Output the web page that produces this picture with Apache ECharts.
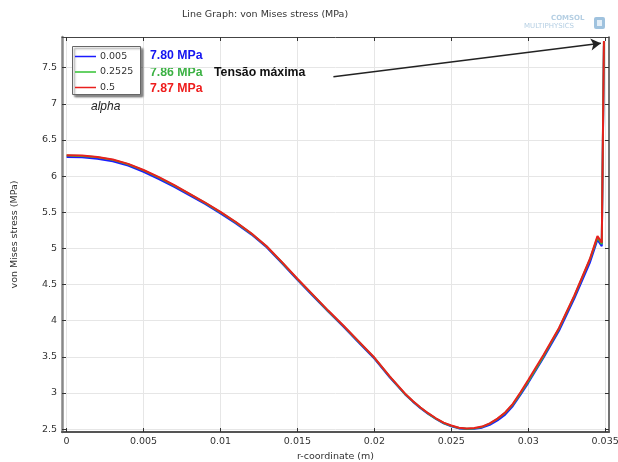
<!DOCTYPE html>
<html>
<head>
<meta charset="utf-8">
<title>Line Graph: von Mises stress (MPa)</title>
<script src="https://cdn.jsdelivr.net/npm/echarts@6.0.0/dist/echarts.min.js"></script>
<style>
  html, body { margin: 0; padding: 0; background: #fff; }
  #chart-container { width: 618px; height: 462px; }
</style>
</head>
<body>
<div id="chart-container"></div>
<script>
// r-coordinate (m), shared by the three curves
var rCoord = [0, 0.001, 0.002, 0.003, 0.004, 0.005, 0.006, 0.007, 0.008, 0.009,
  0.010, 0.011, 0.012, 0.013, 0.014, 0.015, 0.016, 0.017, 0.018, 0.019,
  0.020, 0.021, 0.022, 0.0225, 0.023, 0.0235, 0.024, 0.0245, 0.025, 0.0255,
  0.026, 0.0265, 0.027, 0.0275, 0.028, 0.0285, 0.029, 0.0295, 0.030, 0.031,
  0.032, 0.033, 0.034, 0.0345, 0.03478, 0.03492];

// von Mises stress (MPa), alpha = 0.005
var stressLow = [6.265, 6.26, 6.24, 6.205, 6.145, 6.06, 5.96, 5.85, 5.735, 5.615,
  5.485, 5.345, 5.195, 5.015, 4.795, 4.565, 4.345, 4.125, 3.915, 3.695,
  3.475, 3.215, 2.98, 2.88, 2.79, 2.71, 2.64, 2.58, 2.54, 2.51,
  2.50, 2.505, 2.52, 2.56, 2.62, 2.70, 2.82, 2.975, 3.14, 3.49,
  3.86, 4.31, 4.80, 5.12, 5.03, 7.80];

// alpha = 0.2525
var stressMid = [6.285, 6.28, 6.26, 6.225, 6.165, 6.08, 5.98, 5.87, 5.75, 5.63,
  5.50, 5.36, 5.205, 5.025, 4.805, 4.575, 4.355, 4.135, 3.925, 3.705,
  3.485, 3.225, 2.985, 2.885, 2.795, 2.715, 2.645, 2.585, 2.545, 2.515,
  2.505, 2.51, 2.53, 2.575, 2.64, 2.725, 2.84, 2.995, 3.16, 3.51,
  3.89, 4.34, 4.84, 5.15, 5.06, 7.86];

// alpha = 0.5
var stressHigh = [6.29, 6.285, 6.265, 6.23, 6.17, 6.085, 5.985, 5.875, 5.755, 5.635,
  5.505, 5.365, 5.21, 5.03, 4.81, 4.58, 4.36, 4.14, 3.93, 3.71,
  3.49, 3.23, 2.99, 2.89, 2.80, 2.72, 2.65, 2.59, 2.55, 2.52,
  2.51, 2.515, 2.535, 2.58, 2.645, 2.73, 2.85, 3.01, 3.18, 3.53,
  3.90, 4.35, 4.85, 5.17, 5.08, 7.87];

var alphaNames = ["0.005", "0.2525", "0.5"];
var maxLabels = ["7.80 MPa", "7.86 MPa", "7.87 MPa"];
var xTicks = [0, 0.005, 0.01, 0.015, 0.02, 0.025, 0.03, 0.035];
var yTicks = [2.5, 3, 3.5, 4, 4.5, 5, 5.5, 6, 6.5, 7, 7.5];
var arrowFrom = [0.01734, 7.375];
var arrowTo = [0.03472, 7.838];

var lineColors = ["#1a1aff", "#33c233", "#e8201e"];
var textColors = ["#1414f0", "#3bb143", "#ee1c1c"];
var font = "DejaVu Sans";

function pairs(ys) {
  return rCoord.map(function (r, i) { return [r, ys[i]]; });
}

var dom = document.getElementById("chart-container");
var myChart = echarts.init(dom, null, { renderer: "canvas" });

var tickLabel = { fontFamily: font, fontSize: 9.5, color: "#333" };

var xRange = { min: -0.0003, max: 0.03525 };
var yRange = { min: 2.46, max: 7.925 };

var option = {
  animation: false,
  title: {
    text: "Line Graph: von Mises stress (MPa)",
    left: 177,
    top: 5,
    textStyle: { fontFamily: font, fontSize: 9.5, fontWeight: "normal", color: "#333" },
  },
  grid: { left: 62, top: 37, width: 547, height: 395, outerBoundsMode: "none", containLabel: false },
  legend: {
    data: alphaNames,
    orient: "vertical",
    left: 70,
    top: 46.5,
    icon: "rect",
    itemWidth: 21,
    itemHeight: 1.5,
    itemGap: 5.5,
    z: 70,
    textStyle: { fontFamily: font, fontSize: 9.5, color: "#333", padding: [0, 0, 0, -1] },
  },
  xAxis: [
    {
      type: "value",
      position: "bottom",
      min: xRange.min,
      max: xRange.max,
      name: "r-coordinate (m)",
      nameLocation: "middle",
      nameGap: 12,
      nameTextStyle: { fontFamily: font, fontSize: 9.5, color: "#333" },
      axisLine: { onZero: false, lineStyle: { color: "#555", width: 2 } },
      axisTick: { inside: true, length: 4, customValues: xTicks, lineStyle: { color: "#333" } },
      axisLabel: Object.assign({ customValues: xTicks, margin: 5 }, tickLabel),
      splitLine: { show: true, lineStyle: { color: "#e6e6e6", width: 1 } },
    },
    {
      type: "value",
      position: "top",
      min: xRange.min,
      max: xRange.max,
      axisLine: { onZero: false, lineStyle: { color: "#444", width: 1 } },
      axisTick: { inside: true, length: 4, customValues: xTicks, lineStyle: { color: "#333" } },
      axisLabel: { show: false },
      splitLine: { show: false },
    },
  ],
  yAxis: [
    {
      type: "value",
      position: "left",
      min: yRange.min,
      max: yRange.max,
      name: "von Mises stress (MPa)",
      nameLocation: "middle",
      nameGap: 42,
      nameTextStyle: { fontFamily: font, fontSize: 9.5, color: "#333" },
      axisLine: { onZero: false, lineStyle: { color: "#888", width: 2.5 } },
      axisTick: { inside: true, length: 4, customValues: yTicks, lineStyle: { color: "#333" } },
      axisLabel: Object.assign({ customValues: yTicks, margin: 5 }, tickLabel),
      splitLine: { show: true, lineStyle: { color: "#e6e6e6", width: 1 } },
    },
    {
      type: "value",
      position: "right",
      min: yRange.min,
      max: yRange.max,
      axisLine: { onZero: false, lineStyle: { color: "#444", width: 1.5 } },
      axisTick: { inside: true, length: 4, customValues: yTicks, lineStyle: { color: "#333" } },
      axisLabel: { show: false },
      splitLine: { show: false },
    },
  ],
  series: [
    {
      name: alphaNames[0],
      type: "line",
      data: pairs(stressLow),
      symbol: "none",
      lineStyle: { width: 2, color: lineColors[0] },
      itemStyle: { color: lineColors[0] },
      z: 2,
    },
    {
      name: alphaNames[1],
      type: "line",
      data: pairs(stressMid),
      symbol: "none",
      lineStyle: { width: 2, color: lineColors[1] },
      itemStyle: { color: lineColors[1] },
      z: 3,
    },
    {
      name: alphaNames[2],
      type: "line",
      data: pairs(stressHigh),
      symbol: "none",
      lineStyle: { width: 2, color: lineColors[2] },
      itemStyle: { color: lineColors[2] },
      z: 4,
      markLine: {
        silent: true,
        symbol: ["none", "arrow"],
        symbolSize: [9, 10],
        label: { show: false },
        lineStyle: { color: "#222", width: 1.5, type: "solid" },
        data: [[{ coord: arrowFrom }, { coord: arrowTo }]],
      },
    },
  ],
  graphic: [
    {
      type: "rect",
      left: 72,
      top: 46,
      shape: { width: 68, height: 48 },
      style: {
        fill: "#fff",
        stroke: "#666",
        lineWidth: 1,
        shadowColor: "rgba(0,0,0,0.45)",
        shadowBlur: 2,
        shadowOffsetX: 2,
        shadowOffsetY: 2,
      },
      z: 50,
    },
    {
      type: "text",
      left: 91,
      top: 101,
      style: { text: "alpha", font: "italic 12px Liberation Sans", fill: "#222" },
      z: 60,
    },
    {
      type: "group",
      left: 150,
      top: 50,
      children: maxLabels.map(function (t, i) {
        return {
          type: "text",
          x: 0,
          y: i * 16.5,
          style: { text: t, font: "bold 12.3px Liberation Sans", fill: textColors[i] },
        };
      }),
      z: 60,
    },
    {
      type: "text",
      left: 214,
      top: 67,
      style: { text: "Tensão máxima", font: "bold 12.3px Liberation Sans", fill: "#111" },
      z: 60,
    },
    {
      type: "group",
      left: 524,
      top: 15,
      children: [
        { type: "text", x: 27, y: 0, style: { text: "COMSOL", font: "bold 7px DejaVu Sans", fill: "#b5cfe3" } },
        { type: "text", x: 0, y: 8, style: { text: "MULTIPHYSICS", font: "7px DejaVu Sans", fill: "#b5cfe3" } },
        { type: "rect", x: 70, y: 2, shape: { width: 11, height: 12, r: 2 }, style: { fill: "#9fc2de" } },
        { type: "rect", x: 73, y: 5, shape: { width: 5, height: 6 }, style: { fill: "#e3eef7" } },
      ],
    },
  ],
};

myChart.setOption(option);
window.addEventListener("resize", myChart.resize);
</script>
</body>
</html>
